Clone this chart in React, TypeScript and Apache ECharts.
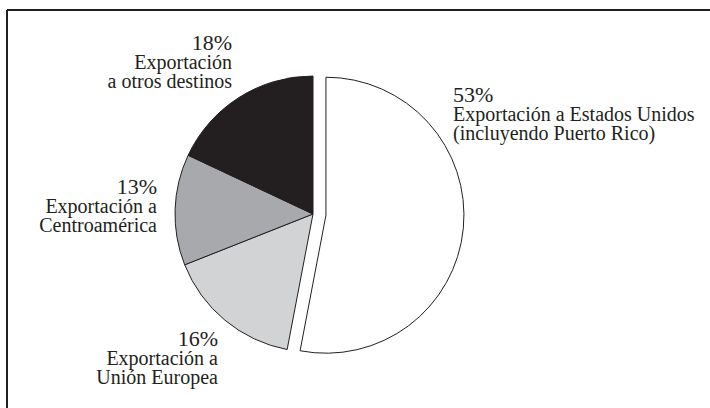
import React, { useEffect, useRef } from "react";
import * as echarts from "echarts";

const categories = [
  "Exportación a Estados Unidos\n(incluyendo Puerto Rico)",
  "Exportación a\nUnión Europea",
  "Exportación a\nCentroamérica",
  "Exportación\na otros destinos",
];
const shares = [53, 16, 13, 18];
const colors = ["#ffffff", "#d1d3d4", "#a7a9ac", "#231f20"];

// label layout per slice: anchor x, first baseline y, align
const labelX = [453, 218, 157, 232];
const labelBase = [101, 345, 193, 49];
const labelAlign = ["left", "right", "right", "right"];
const LINE = 19.5;
const FAMILY = "Liberation Serif";
const INK = "#231f20";

export default function App() {
  const ref = useRef<HTMLDivElement>(null);
  useEffect(() => {
    document.body.style.margin = "0";
    const chart = echarts.init(ref.current!, null, { renderer: "svg" });

    const texts: any[] = [];
    shares.forEach((v, i) => {
      const lines = [`${v}%`, ...categories[i].split("\n")];
      lines.forEach((ln, k) => {
        const fs = k === 0 ? 22 : 20;
        const base = labelBase[i] + k * LINE;
        texts.push({
          type: "text",
          x: labelX[i],
          y: Math.round(base - 0.34 * fs),
          style: {
            text: ln,
            fontSize: fs,
            fontFamily: FAMILY,
            fill: INK,
            align: labelAlign[i],
            verticalAlign: "middle",
          },
        });
      });
    });

    chart.setOption({
      animation: false,
      backgroundColor: "#ffffff",
      graphic: [
        {
          type: "line",
          shape: { x1: 7, y1: 10, x2: 710, y2: 10 },
          style: { stroke: INK, lineWidth: 2 },
        },
        {
          type: "line",
          shape: { x1: 7, y1: 10, x2: 7, y2: 408 },
          style: { stroke: INK, lineWidth: 2 },
        },
        ...texts,
      ],
      series: [
        {
          type: "pie",
          center: [313, 214],
          radius: 138,
          startAngle: 90,
          clockwise: true,
          selectedMode: "single",
          selectedOffset: 13,
          avoidLabelOverlap: false,
          emphasis: { disabled: true },
          itemStyle: { borderColor: INK, borderWidth: 1 },
          label: { show: false },
          labelLine: { show: false },
          data: shares.map((v, i) => ({
            value: v,
            name: categories[i],
            selected: i === 0,
            itemStyle: { color: colors[i] },
          })),
        },
      ],
    });
    return () => chart.dispose();
  }, []);
  return <div ref={ref} style={{ width: 710, height: 408 }} />;
}
